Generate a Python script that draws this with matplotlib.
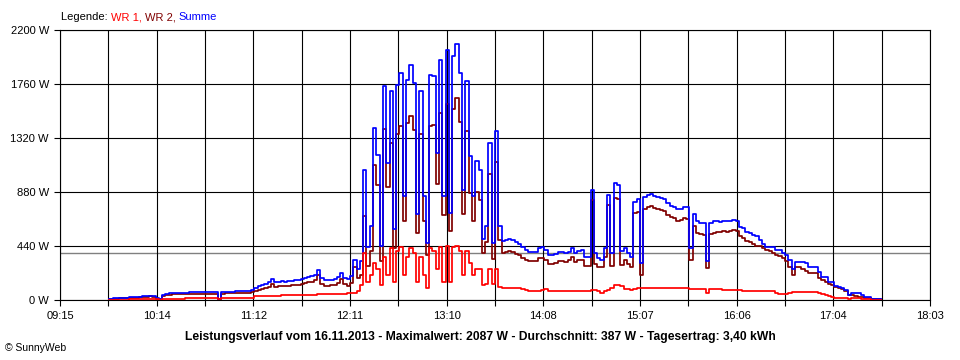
import numpy as np
import matplotlib.pyplot as plt

plt.rcParams['font.family'] = ['Liberation Sans', 'DejaVu Sans']

# sampling: one value every 2 min, first one at 09:45 (minutes after 09:15)
t_start = 30
t_step = 2

# WR 1 (W)
wr1 = [2, 3, 3, 4, 4, 4, 5, 5, 5, 6,
       6, 6, 6, 6, 5, 4, 8, 10, 12, 12,
       12, 12, 12, 13, 13, 13, 13, 13, 13, 13,
       13, 13, 13, 6, 13, 13, 13, 14, 14, 14,
       14, 14, 14, 20, 30, 32, 33, 34, 35, 36,
       36, 36, 37, 37, 37, 37, 38, 38, 38, 39,
       40, 42, 44, 46, 46, 46, 46, 46, 46, 48,
       50, 52, 55, 57, 60, 70, 120, 380, 150, 200,
       300, 250, 120, 350, 200, 420, 150, 400, 430, 200,
       350, 420, 380, 150, 350, 200, 100, 420, 400, 250,
       430, 150, 440, 150, 430, 440, 400, 200, 400, 300,
       200, 250, 250, 120, 130, 250, 130, 250, 110, 100,
       100, 100, 98, 96, 95, 90, 80, 75, 73, 73,
       75, 85, 88, 75, 73, 73, 73, 73, 73, 73,
       73, 73, 75, 75, 75, 75, 80, 85, 70, 60,
       70, 80, 100, 120, 120, 115, 90, 90, 85, 90,
       100, 100, 98, 98, 98, 98, 98, 97, 97, 96,
       96, 95, 95, 95, 95, 95, 93, 93, 92, 92,
       92, 60, 90, 90, 88, 86, 85, 84, 82, 82,
       80, 78, 76, 76, 76, 76, 76, 76, 76, 76,
       76, 70, 55, 49, 49, 50, 60, 68, 68, 68,
       68, 68, 68, 68, 66, 55, 45, 41, 35, 25,
       14, 14, 14, 14, 12, 14, 14, 14, 10, 6,
       5, 3, 2, 2, 1]

# WR 2 (W)
wr2 = [8, 10, 12, 14, 15, 16, 17, 18, 20, 22,
       24, 28, 29, 28, 12, 8, 30, 38, 44, 46,
       46, 46, 48, 48, 50, 50, 52, 52, 52, 52,
       52, 50, 50, 6, 52, 54, 54, 55, 56, 56,
       58, 58, 60, 62, 70, 80, 90, 100, 110, 134,
       110, 112, 116, 112, 118, 120, 122, 126, 130, 140,
       148, 150, 160, 200, 130, 118, 115, 120, 125, 140,
       170, 130, 118, 135, 270, 180, 200, 683, 280, 400,
       1100, 935, 320, 1396, 917, 1280, 425, 1354, 1419, 646,
       1445, 1497, 1388, 550, 1350, 646, 366, 1415, 1422, 948,
       1527, 696, 1599, 560, 1555, 1647, 1449, 700, 1381, 871,
       646, 880, 813, 380, 470, 1030, 336, 1125, 490, 380,
       390, 397, 392, 374, 365, 340, 330, 320, 317, 319,
       345, 345, 322, 295, 292, 302, 317, 319, 312, 322,
       351, 313, 325, 330, 275, 275, 816, 295, 270, 270,
       350, 775, 280, 830, 820, 285, 330, 290, 265, 710,
       720, 200, 744, 757, 762, 752, 742, 733, 723, 694,
       674, 665, 645, 650, 665, 660, 327, 607, 548, 538,
       533, 260, 540, 550, 552, 552, 560, 556, 563, 568,
       560, 519, 508, 480, 474, 453, 444, 440, 420, 411,
       400, 380, 370, 355, 340, 320, 272, 204, 270, 265,
       255, 240, 217, 217, 217, 180, 160, 150, 130, 122,
       105, 100, 90, 75, 38, 41, 35, 27, 27, 14,
       14, 8, 6, 5, 4]

# Summe (W)
summe = [10, 13, 15, 18, 19, 20, 22, 23, 25, 28,
         30, 34, 35, 34, 17, 12, 38, 48, 56, 58,
         58, 58, 60, 61, 63, 63, 65, 65, 65, 65,
         65, 63, 63, 12, 65, 67, 67, 69, 70, 70,
         72, 72, 74, 82, 100, 112, 123, 134, 145, 170,
         146, 148, 153, 149, 155, 157, 160, 164, 168, 179,
         188, 192, 204, 246, 176, 164, 161, 166, 171, 188,
         220, 182, 173, 192, 330, 250, 320, 1063, 430, 600,
         1400, 1185, 440, 1746, 1117, 1700, 575, 1754, 1849, 846,
         1795, 1917, 1768, 700, 1700, 846, 466, 1835, 1822, 1198,
         1957, 846, 2039, 710, 1985, 2087, 1849, 900, 1781, 1171,
         846, 1130, 1063, 500, 600, 1280, 466, 1375, 600, 480,
         490, 497, 490, 470, 460, 430, 410, 395, 390, 392,
         420, 430, 410, 370, 365, 375, 390, 392, 385, 395,
         424, 386, 400, 405, 350, 350, 896, 380, 340, 330,
         420, 855, 380, 950, 940, 400, 420, 380, 350, 800,
         820, 300, 842, 855, 860, 850, 840, 830, 820, 790,
         770, 760, 740, 745, 760, 755, 420, 700, 640, 630,
         625, 320, 630, 640, 640, 638, 645, 640, 645, 650,
         640, 597, 584, 556, 550, 529, 520, 489, 460, 434,
         434, 430, 410, 407, 380, 366, 326, 250, 312, 312,
         312, 300, 272, 272, 270, 230, 190, 190, 149, 149,
         115, 109, 100, 81, 41, 54, 54, 54, 40, 27,
         27, 11, 10, 8, 6]

x_labels = ['09:15', '10:14', '11:12', '12:11', '13:10',
            '14:08', '15:07', '16:06', '17:04', '18:03']
x_span = 528          # 09:15 .. 18:03 in minutes
y_ticks = [0, 440, 880, 1320, 1760, 2200]
avg_w = 387
title = ('Leistungsverlauf vom 16.11.2013 - Maximalwert: 2087 W - '
         'Durchschnitt: 387 W - Tagesertrag: 3,40 kWh')

minutes = t_start + t_step * np.arange(len(summe))

fig = plt.figure(figsize=(9.6, 3.6), dpi=100)
ax = fig.add_axes([60 / 960, 60 / 360, 870 / 960, 270 / 360])

ax.axhline(avg_w, color='#808080', lw=1.0, zorder=0.4)
ax.step(minutes, wr2, where='post', color='#800000', lw=1.25, zorder=2)
ax.step(minutes, summe, where='post', color='#0000ff', lw=1.25, zorder=3)
ax.step(minutes, wr1, where='post', color='#ff0000', lw=1.25, zorder=4)

ax.set_xlim(0, x_span)
ax.set_ylim(0, 2200)
major = np.linspace(0, x_span, len(x_labels))
minor = (major[:-1] + major[1:]) / 2
ax.set_xticks(major)
ax.set_xticklabels(x_labels)
ax.set_xticks(minor, minor=True)
ax.set_yticks(y_ticks)
ax.set_yticklabels(['{} W'.format(v) for v in y_ticks])

ax.set_axisbelow(True)
ax.grid(True, which='both', color='black', lw=0.8)
for s in ax.spines.values():
    s.set_color('black')
    s.set_linewidth(0.8)
ax.tick_params(which='both', direction='out', length=4, width=0.8,
               labelsize=8, colors='black', pad=4)

# legend line at the top
leg = fig.text(61 / 960, 1 - 22 / 360, 'Legende: ', fontsize=8,
               color='black', va='bottom')
prev = leg
for txt, col in [('WR 1, ', '#ff0000'), ('WR 2, ', '#800000'),
                 ('Summe', '#0000ff')]:
    prev = ax.annotate(txt, xy=(1, 0), xycoords=prev, va='bottom',
                       ha='left', fontsize=8, color=col,
                       annotation_clip=False)

fig.text(480 / 960, 1 - 337 / 360, title, fontsize=8.7, fontweight='bold',
         ha='center', va='center')
fig.text(5 / 960, 1 - 348 / 360, '\u00a9 SunnyWeb', fontsize=7.5,
         ha='left', va='center')

fig.savefig('out.png', dpi=100)
